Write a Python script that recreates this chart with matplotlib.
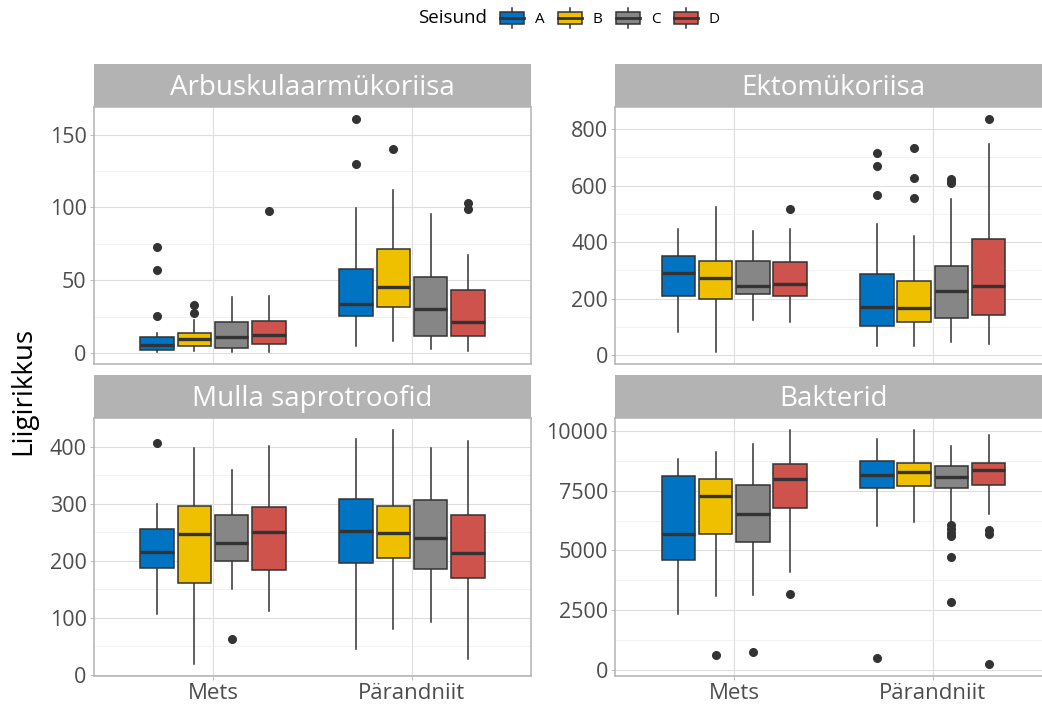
import matplotlib
matplotlib.use("Agg")
import matplotlib.pyplot as plt
from matplotlib.patches import Patch, Rectangle
from matplotlib.lines import Line2D
from matplotlib.legend_handler import HandlerBase
from matplotlib.ticker import MultipleLocator, FuncFormatter

plt.rcParams['font.family'] = ['Open Sans', 'DejaVu Sans']

groups = ['Mets', 'Pärandniit']
seisund = ['A', 'B', 'C', 'D']
colors = ['#0073C2', '#EFC000', '#868686', '#CD534C']
facets = ['Arbuskulaarmükoriisa', 'Ektomükoriisa', 'Mulla saprotroofid', 'Bakterid']

# order: Mets A,B,C,D then Pärandniit A,B,C,D
arb_lo = [0.5, 1.4, 0.5, 0.5, 4.5, 8.4, 2.7, 1.4]
arb_q1 = [2.3, 5, 3.2, 5.9, 25.5, 31.4, 11.4, 11.4]
arb_med = [5.5, 9.5, 11.1, 12.3, 33.4, 45.5, 30.5, 21.4]
arb_q3 = [10.7, 14, 21.4, 21.8, 57.7, 71.4, 52.5, 43]
arb_hi = [14, 23, 38.4, 39, 99.8, 111.9, 95.5, 67.5]
arb_out = [[72.8, 56.8, 25.5], [32.7, 27.7], [], [97.8], [161, 130], [140], [], [102.8, 98.9]]

ekt_lo = [83, 10, 124, 119, 34, 34, 46, 39]
ekt_q1 = [208, 200, 216, 208, 102, 116, 133, 141]
ekt_med = [290, 274, 244, 252, 171, 167, 226, 243]
ekt_q3 = [350, 333, 333, 331, 288, 262, 317, 410]
ekt_hi = [445, 525, 441, 448, 463, 420, 552, 747]
ekt_out = [[], [], [], [518], [714, 670, 567], [732, 628, 555], [624, 616, 610], [837]]

mul_lo = [107, 18, 151, 112, 44, 79.5, 92, 27]
mul_q1 = [186.5, 161, 199, 183.5, 196.5, 204.5, 184.7, 170]
mul_med = [215, 247, 231, 250, 252, 249, 240, 214]
mul_q3 = [255, 296, 281, 295, 307.5, 296, 306, 279.5]
mul_hi = [300, 398, 360, 401, 414.5, 430, 398, 411]
mul_out = [[407], [], [63], [], [], [], [], []]

bak_lo = [2333, 3097, 3153, 4111, 6014, 6194, 6153, 6528]
bak_q1 = [4597, 5708, 5347, 6792, 7625, 7681, 7611, 7736]
bak_med = [5708, 7264, 6528, 8000, 8153, 8264, 8083, 8375]
bak_q3 = [8125, 8000, 7750, 8611, 8736, 8653, 8528, 8653]
bak_hi = [8820, 9097, 9430, 10040, 9653, 10040, 9347, 9806]
bak_out = [[], [639], [764], [3181], [500], [], [6083, 5903, 5736, 5597, 4722, 2847], [5847, 5708, 250]]

panel_data = [
    (arb_lo, arb_q1, arb_med, arb_q3, arb_hi, arb_out, 50),
    (ekt_lo, ekt_q1, ekt_med, ekt_q3, ekt_hi, ekt_out, 200),
    (mul_lo, mul_q1, mul_med, mul_q3, mul_hi, mul_out, 100),
    (bak_lo, bak_q1, bak_med, bak_q3, bak_hi, bak_out, 2500),
]

W, H = 1042, 708
fig = plt.figure(figsize=(W / 100, H / 100), dpi=100)

# panel rectangles in pixels: left, right, top, bottom
rects = [(93.6, 531.4, 107, 364), (615, 1052, 107, 364),
         (93.6, 531.4, 418, 676), (615, 1052, 418, 676)]
strip_h = 43

offsets = [-0.28125, -0.09375, 0.09375, 0.28125]
bw = 0.1875 * 0.9
edge = '#333333'

for k, (lo, q1, med, q3, hi, out, step) in enumerate(panel_data):
    l, r, t, b = rects[k]
    ax = fig.add_axes([l / W, 1 - b / H, (r - l) / W, (b - t) / H])
    sax = fig.add_axes([l / W, 1 - t / H, (r - l) / W, strip_h / H])
    sax.set_facecolor('#b3b3b3')
    sax.set_xticks([])
    sax.set_yticks([])
    for s in sax.spines.values():
        s.set_visible(False)
    sax.text(0.5, 0.45, facets[k], color='white', fontsize=20,
             ha='center', va='center', transform=sax.transAxes)

    stats = []
    pos = []
    for g in range(2):
        for j in range(4):
            i = g * 4 + j
            stats.append(dict(med=med[i], q1=q1[i], q3=q3[i],
                              whislo=lo[i], whishi=hi[i], fliers=out[i]))
            pos.append(g + 1 + offsets[j])
    bp = ax.bxp(stats, positions=pos, widths=bw, patch_artist=True,
                showcaps=False,
                boxprops=dict(edgecolor=edge, linewidth=1.1),
                whiskerprops=dict(color=edge, linewidth=1.1),
                medianprops=dict(color=edge, linewidth=2.4, solid_capstyle='butt'),
                flierprops=dict(marker='o', markerfacecolor=edge, markeredgecolor=edge,
                                markersize=5.5))
    for i, box in enumerate(bp['boxes']):
        box.set_facecolor(colors[i % 4])
        box.set_zorder(3)
    for m in bp['medians']:
        m.set_zorder(4)

    allv = lo + hi + [v for o in out for v in o]
    vmin, vmax = min(allv), max(allv)
    pad = (vmax - vmin) * 0.05
    ax.set_ylim(vmin - pad, vmax + pad)
    ax.set_xlim(0.4, 2.6)
    ax.yaxis.set_major_locator(MultipleLocator(step))
    ax.yaxis.set_minor_locator(MultipleLocator(step / 2))
    ax.yaxis.set_major_formatter(FuncFormatter(lambda v, p: '%d' % v))
    ax.set_xticks([1, 2])
    ax.grid(True, which='major', color='#dedede', linewidth=0.8)
    ax.grid(True, which='minor', axis='y', color='#ececec', linewidth=0.5)
    ax.set_axisbelow(True)
    for s in ax.spines.values():
        s.set_color('#b3b3b3')
        s.set_linewidth(1.1)
    ax.tick_params(axis='y', which='major', length=3, width=0.6, color='#b3b3b3',
                   labelsize=15.5, labelcolor='#4d4d4d', pad=2)
    ax.tick_params(axis='y', which='minor', length=0)
    if k >= 2:
        ax.set_xticklabels(groups)
        ax.tick_params(axis='x', length=3, width=0.6, color='#b3b3b3',
                       labelsize=16, labelcolor='#4d4d4d', pad=2)
    else:
        ax.tick_params(axis='x', length=0, labelbottom=False)

fig.text(23 / W, 1 - 391 / H, 'Liigirikkus', rotation=90, fontsize=20,
         ha='center', va='center')


class BoxKey(HandlerBase):
    def create_artists(self, legend, orig_handle, xdescent, ydescent,
                       width, height, fontsize, trans):
        x0, y0 = -xdescent, -ydescent
        fc = orig_handle.get_facecolor()
        rect = Rectangle((x0, y0 + 0.18 * height), width, 0.64 * height,
                         facecolor=fc, edgecolor=edge, linewidth=1.1, transform=trans)
        medl = Line2D([x0, x0 + width], [y0 + 0.5 * height] * 2, color=edge,
                      linewidth=2, transform=trans)
        wlo = Line2D([x0 + width / 2] * 2, [y0, y0 + 0.18 * height], color=edge,
                     linewidth=1.1, transform=trans)
        whi = Line2D([x0 + width / 2] * 2, [y0 + 0.82 * height, y0 + height], color=edge,
                     linewidth=1.1, transform=trans)
        return [wlo, whi, rect, medl]


handles = [Patch(facecolor=c) for c in colors]
fig.text(418 / W, 1 - 18 / H, 'Seisund', fontsize=13.5, ha='left', va='center')
fig.legend(handles, seisund, handler_map={Patch: BoxKey()}, loc='center left',
           bbox_to_anchor=(500 / W, 1 - 18 / H), ncol=4, frameon=False,
           fontsize=11, handlelength=1.57, handleheight=1.57, handletextpad=0.7,
           columnspacing=0.9, borderpad=0, borderaxespad=0)

fig.savefig('out.png', dpi=100)
